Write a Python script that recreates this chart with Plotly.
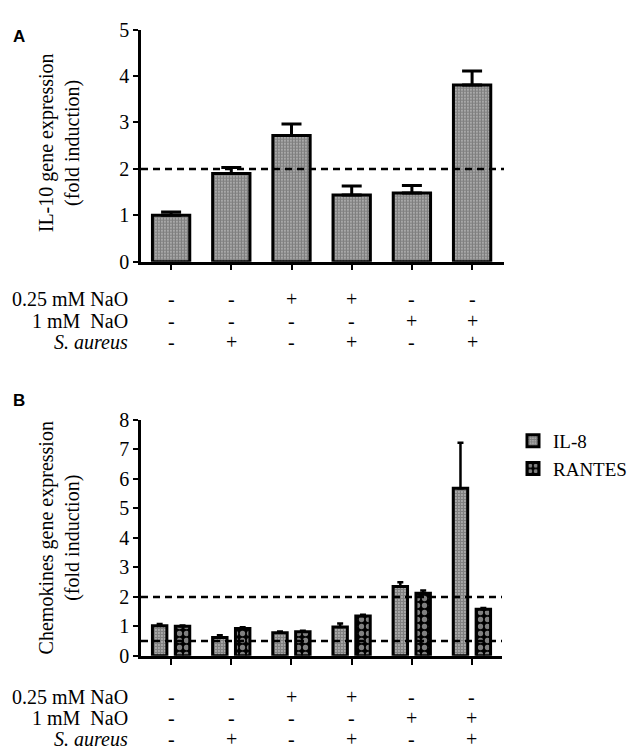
import plotly.graph_objects as go

# ---------------- data ----------------
conditions = ["Control", "S. aureus", "0.25 mM NaO", "0.25 mM NaO + S. aureus",
              "1 mM NaO", "1 mM NaO + S. aureus"]
row_labels = ["0.25 mM NaO", "1 mM  NaO", "<i>S. aureus</i>"]
na_025 = ["-", "-", "+", "+", "-", "-"]
na_1 = ["-", "-", "-", "-", "+", "+"]
s_aureus = ["-", "+", "-", "+", "-", "+"]

il10 = [1.00, 1.90, 2.72, 1.44, 1.48, 3.81]
il10_err = [0.07, 0.13, 0.25, 0.19, 0.16, 0.30]

il8 = [1.02, 0.62, 0.78, 0.98, 2.35, 5.68]
il8_err = [0.06, 0.08, 0.05, 0.12, 0.15, 1.55]
rantes = [1.00, 0.93, 0.82, 1.35, 2.12, 1.58]
rantes_err = [0.03, 0.04, 0.03, 0.04, 0.10, 0.04]

threshold_a = [2]
threshold_b = [2, 0.5]

# ---------------- figure ----------------
W, H = 638, 754
SERIF = "Liberation Serif, Times New Roman, serif"
fig = go.Figure()

fine = dict(shape=".", size=3, solidity=0.8, fgcolor="black", bgcolor="white", fillmode="overlay")
coarse = dict(shape=".", size=7, solidity=0.45, fgcolor="white", bgcolor="black", fillmode="overlay")

fig.add_trace(go.Bar(
    x=conditions, y=il10, xaxis="x", yaxis="y", width=0.62, showlegend=False,
    marker=dict(color="white", pattern=fine, line=dict(color="black", width=3)),
    error_y=dict(type="data", array=il10_err, arrayminus=[0]*6, symmetric=False,
                 color="black", thickness=3, width=10),
))
fig.add_trace(go.Bar(
    x=conditions, y=il8, xaxis="x2", yaxis="y2", width=0.24, offset=-0.31, name="IL-8",
    marker=dict(color="white", pattern=fine, line=dict(color="black", width=3)),
    error_y=dict(type="data", array=il8_err, arrayminus=[0]*6, symmetric=False,
                 color="black", thickness=2.5, width=3),
))
fig.add_trace(go.Bar(
    x=conditions, y=rantes, xaxis="x2", yaxis="y2", width=0.24, offset=0.07, name="RANTES",
    marker=dict(color="black", pattern=coarse, line=dict(color="black", width=3)),
    error_y=dict(type="data", array=rantes_err, arrayminus=[0]*6, symmetric=False,
                 color="black", thickness=2.5, width=3),
))

def px_x(p):
    return p / W

def px_y(p):
    return 1 - p / H

axis_common = dict(showline=True, linecolor="black", linewidth=2.5, ticks="outside",
                   tickcolor="black", tickwidth=2, showgrid=False, zeroline=False)
tickfont = dict(family=SERIF, size=20, color="black")

fig.update_layout(
    width=W, height=H, margin=dict(l=0, r=0, t=0, b=0),
    paper_bgcolor="white", plot_bgcolor="white", barmode="overlay",
    font=dict(family=SERIF, color="black"),
    xaxis=dict(domain=[px_x(133), px_x(496)], anchor="y", range=[-0.5, 5.53],
               showticklabels=False, ticklen=6, **axis_common),
    yaxis=dict(domain=[px_y(250), px_y(11)], anchor="x", range=[0, 5], dtick=1, ticklen=5,
               tickfont=tickfont, **axis_common),
    xaxis2=dict(domain=[px_x(133), px_x(494)], anchor="y2", range=[-0.5, 5.5],
                showticklabels=False, ticklen=6, **axis_common),
    yaxis2=dict(domain=[px_y(656), px_y(413)], anchor="x2", range=[0, 8], dtick=1, ticklen=5,
                tickfont=tickfont, **axis_common),
    legend=dict(x=px_x(505), y=px_y(415), xanchor="left", yanchor="top",
                font=dict(family=SERIF, size=19, color="black"), itemwidth=30,
                bgcolor="rgba(0,0,0,0)", tracegroupgap=4),
    showlegend=True,
)

# threshold lines
for t in threshold_a:
    fig.add_shape(type="line", xref="x", yref="y", x0=-0.5, x1=5.53, y0=t, y1=t,
                  line=dict(color="black", width=2.5, dash="7px,5px"), layer="above")
for t in threshold_b:
    fig.add_shape(type="line", xref="x2", yref="y2", x0=-0.5, x1=5.55, y0=t, y1=t,
                  line=dict(color="black", width=2.5, dash="7px,5px"), layer="above")

# panel letters
fig.add_annotation(text="<b>A</b>", xref="paper", yref="paper", x=px_x(3), y=px_y(18),
                   xanchor="left", yanchor="middle", showarrow=False,
                   font=dict(family="Liberation Sans, Arial, sans-serif", size=17, color="black"))
fig.add_annotation(text="<b>B</b>", xref="paper", yref="paper", x=px_x(3), y=px_y(393),
                   xanchor="left", yanchor="middle", showarrow=False,
                   font=dict(family="Liberation Sans, Arial, sans-serif", size=17, color="black"))

# y titles
fig.add_annotation(text="IL-10 gene expression<br>(fold induction)", xref="paper", yref="paper",
                   x=px_x(51), y=px_y(128), textangle=-90, showarrow=False,
                   xanchor="center", yanchor="middle",
                   font=dict(family=SERIF, size=20, color="black"))
fig.add_annotation(text="Chemokines gene expression<br>(fold induction)", xref="paper", yref="paper",
                   x=px_x(51), y=px_y(535), textangle=-90, showarrow=False,
                   xanchor="center", yanchor="middle",
                   font=dict(family=SERIF, size=20, color="black"))

# condition tables
rows_a = [288, 311, 333]
rows_b = [698, 720, 742]
signs = [na_025, na_1, s_aureus]
for xa, rows in (("x", rows_a), ("x2", rows_b)):
    for lab, sg, ry in zip(row_labels, signs, rows):
        fig.add_annotation(text=lab, xref="paper", yref="paper", x=px_x(122), y=px_y(ry),
                           xanchor="right", yanchor="middle", showarrow=False,
                           font=dict(family=SERIF, size=20, color="black"))
        for c, s in zip(conditions, sg):
            fig.add_annotation(text=s, xref=xa, yref="paper", x=c, y=px_y(ry),
                               xanchor="center", yanchor="middle", showarrow=False,
                               font=dict(family=SERIF, size=20, color="black"))

fig.write_html("out.html")
